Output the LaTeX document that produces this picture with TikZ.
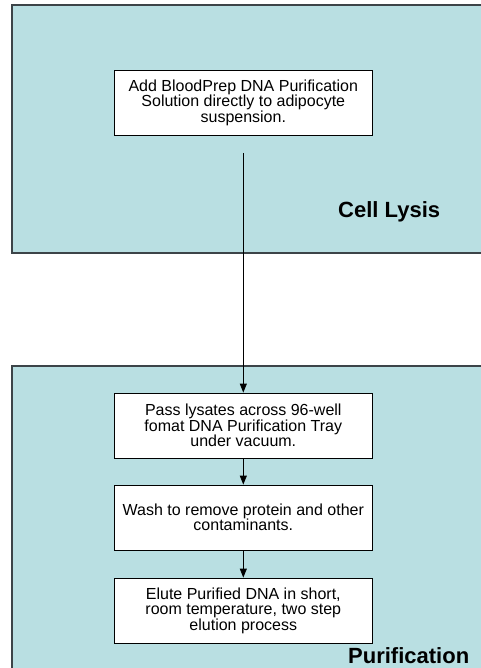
\documentclass[tikz,border=0pt]{standalone}
\usepackage{fontspec}
\setmainfont{Liberation Sans}
\usetikzlibrary{arrows.meta}
\definecolor{panel}{HTML}{B9DFE2}
\definecolor{edgegray}{HTML}{3C4448}
\begin{document}
\begin{tikzpicture}[x=1pt,y=-1pt,
  panelbox/.style={fill=panel,draw=edgegray,line width=1.5pt},
  stepbox/.style={draw=black,fill=white,line width=0.8pt,minimum width=258pt,minimum height=65pt,inner sep=0pt,align=center,font=\fontsize{16}{15.5}\selectfont},
  flow/.style={draw=black,line width=0.8pt,-{Triangle[length=9pt,width=7pt]}},
  phase/.style={font=\fontsize{22}{24}\bfseries\selectfont,anchor=base west,inner sep=0pt}]
\useasboundingbox (0,0) rectangle (480,668);
\fill[white] (0,0) rectangle (480,668);
\path[panelbox] (12,5) rectangle (495,253);
\path[panelbox] (12,366) rectangle (495,700);
\node[stepbox] (s1) at (243.3,102.5) {Add BloodPrep DNA Purification\\Solution directly to adipocyte\\suspension.};
\node[stepbox] (s2) at (243.3,425.5) {Pass lysates across 96-well\\fomat DNA Purification Tray\\under vacuum.};
\node[stepbox] (s3) at (243.3,517.5) {Wash to remove protein and other\\contaminants.};
\node[stepbox] (s4) at (243.3,610.5) {Elute Purified DNA in short,\\room temperature, two step\\elution process};
\coordinate (c1) at (243.3,153);
\draw[flow] (c1) -- (s2.north);
\draw[flow] (s2) -- (s3);
\draw[flow] (s3) -- (s4);
\node[phase] (l1) at (338,217) {Cell Lysis};
\node[phase] (l2) at (348,663) {Purification};
\end{tikzpicture}
\end{document}
